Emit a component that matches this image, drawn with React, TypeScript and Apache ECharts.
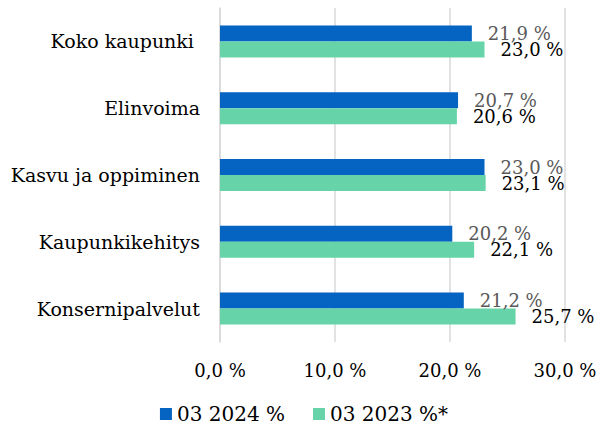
import React, { useEffect, useRef } from "react";
import * as echarts from "echarts";

const categories = ["Koko kaupunki ", "Elinvoima", "Kasvu ja oppiminen", "Kaupunkikehitys", "Konsernipalvelut"];
const series2024 = [21.9, 20.7, 23.0, 20.2, 21.2];
const series2023 = [23.0, 20.6, 23.1, 22.1, 25.7];
const seriesNames = ["03 2024 %", "03 2023 %*"];
const axisTicks = [0, 10, 20, 30];

const FONT = "DejaVu Serif";
const fmt = (v: number) => v.toFixed(1).replace(".", ",") + " %";

export default function App() {
  const ref = useRef<HTMLDivElement>(null);
  useEffect(() => {
    document.body.style.margin = "0";
    const chart = echarts.init(ref.current!, null, { renderer: "svg" });
    chart.setOption({
      animation: false,
      backgroundColor: "#ffffff",
      textStyle: { fontFamily: FONT },
      grid: { left: 220, right: 43, top: 8, bottom: 90, containLabel: false },
      legend: {
        bottom: 3,
        left: "center",
        icon: "rect",
        itemWidth: 12,
        itemHeight: 12,
        itemGap: 28,
        textStyle: { fontFamily: FONT, fontSize: 20, color: "#000" },
        data: seriesNames,
      },
      xAxis: {
        type: "value",
        min: axisTicks[0],
        max: axisTicks[axisTicks.length - 1],
        interval: 10,
        axisLine: { show: false },
        axisTick: { show: false },
        splitLine: { lineStyle: { color: "#d9d9d9", width: 1.5 } },
        axisLabel: {
          margin: 19,
          fontFamily: FONT,
          fontSize: 18,
          color: "#000",
          formatter: (v: number) => fmt(v),
        },
      },
      yAxis: {
        type: "category",
        inverse: true,
        data: categories,
        axisLine: { lineStyle: { color: "#d9d9d9", width: 1.5 } },
        axisTick: { show: false },
        axisLabel: { margin: 20, fontFamily: FONT, fontSize: 19, color: "#000" },
      },
      series: [
        {
          name: seriesNames[0],
          type: "bar",
          data: series2024,
          barWidth: 16,
          barGap: "0%",
          itemStyle: { color: "#0563C1" },
          label: {
            show: true,
            position: "right",
            distance: 16,
            fontFamily: FONT,
            fontSize: 18,
            color: "#595959",
            formatter: (p: any) => fmt(p.value),
          },
        },
        {
          name: seriesNames[1],
          type: "bar",
          data: series2023,
          barWidth: 16,
          barGap: "0%",
          itemStyle: { color: "#66D4A8" },
          label: {
            show: true,
            position: "right",
            distance: 16,
            fontFamily: FONT,
            fontSize: 18,
            color: "#000",
            formatter: (p: any) => fmt(p.value),
          },
        },
      ],
    });
    return () => chart.dispose();
  }, []);
  return <div ref={ref} style={{ width: 608, height: 432 }} />;
}
